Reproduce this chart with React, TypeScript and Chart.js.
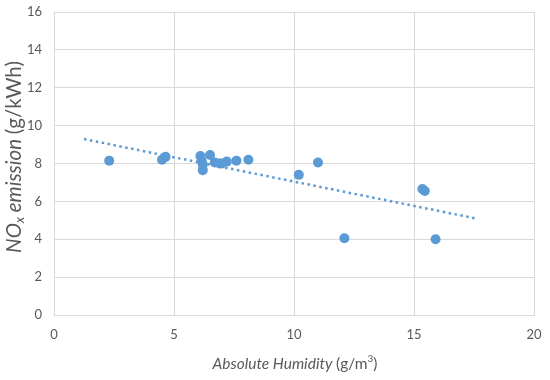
import React, { useEffect, useRef } from "react";
import { Chart, registerables } from "chart.js";

Chart.register(...registerables);

const humidity = [2.3, 4.5, 4.65, 6.1, 6.15, 6.2, 6.2, 6.5, 6.7, 6.9, 7.0, 7.2, 7.6, 8.1, 10.2, 11.0, 12.1, 15.35, 15.45, 15.9];
const noxEmission = [8.15, 8.2, 8.35, 8.4, 8.15, 7.95, 7.65, 8.45, 8.05, 8.0, 8.0, 8.1, 8.15, 8.2, 7.4, 8.05, 4.05, 6.65, 6.55, 4.0];
const trendX = [1.25, 17.65];
const trendY = [9.29, 5.08];
const xTicks = [0, 5, 10, 15, 20];
const yTicks = [0, 2, 4, 6, 8, 10, 12, 14, 16];

const FONT = "Lato, 'Open Sans', sans-serif";
const TEXT = "#595959";
const GRID = "#d9d9d9";
const BLUE = "#5b9bd5";

type Seg = { t: string; italic?: boolean; sub?: boolean; sup?: boolean };

function drawSegs(ctx: CanvasRenderingContext2D, segs: Seg[], base: number, target: number) {
  const fontFor = (s: Seg, size: number) =>
    `${s.italic ? "italic " : ""}${s.sub || s.sup ? Math.round(size * 0.65) : size}px ${FONT}`;
  const measure = (size: number) => {
    let total = 0;
    for (const s of segs) {
      ctx.font = fontFor(s, size);
      total += ctx.measureText(s.t).width;
    }
    return total;
  };
  const size = Math.round(base * (target / measure(base)) * 2) / 2;
  const total = measure(size);
  let x = -total / 2;
  ctx.textBaseline = "middle";
  ctx.textAlign = "left";
  for (const s of segs) {
    ctx.font = fontFor(s, size);
    const dy = s.sub ? size * 0.3 : s.sup ? -size * 0.35 : 0;
    ctx.fillText(s.t, x, dy);
    x += ctx.measureText(s.t).width;
  }
}

const titlePlugin = {
  id: "mixedTitles",
  afterDraw(chart: any) {
    const ctx = chart.ctx as CanvasRenderingContext2D;
    ctx.save();
    ctx.fillStyle = TEXT;
    ctx.translate(295, 364);
    drawSegs(
      ctx,
      [{ t: "Absolute Humidity ", italic: true }, { t: "(g/m" }, { t: "3", sup: true }, { t: ")" }],
      15,
      166
    );
    ctx.restore();
    ctx.save();
    ctx.fillStyle = TEXT;
    ctx.translate(14, 157);
    ctx.rotate(-Math.PI / 2);
    drawSegs(
      ctx,
      [{ t: "NO", italic: true }, { t: "x", italic: true, sub: true }, { t: " emission ", italic: true }, { t: "(g/kWh)" }],
      15,
      193
    );
    ctx.restore();
  },
};

export default function App() {
  const ref = useRef<HTMLCanvasElement>(null);
  useEffect(() => {
    if (!ref.current) return;
    const chart = new Chart(ref.current, {
      type: "scatter",
      data: {
        datasets: [
          {
            label: "Trend",
            data: trendX.map((x, i) => ({ x, y: trendY[i] })),
            showLine: true,
            borderColor: BLUE,
            borderWidth: 2.5,
            borderDash: [2.5, 3.5],
            pointRadius: 0,
            fill: false,
          },
          {
            label: "NOx",
            data: humidity.map((x, i) => ({ x, y: noxEmission[i] })),
            backgroundColor: BLUE,
            borderColor: BLUE,
            pointRadius: 5,
            borderWidth: 0,
          },
        ],
      },
      options: {
        animation: false,
        responsive: false,
        maintainAspectRatio: false,
        layout: { padding: { left: 0, right: 16, top: 12, bottom: 0 } },
        plugins: { legend: { display: false }, tooltip: { enabled: false } },
        scales: {
          x: {
            type: "linear",
            min: 0,
            max: 20,
            afterBuildTicks: (s: any) => {
              s.ticks = xTicks.map((v) => ({ value: v }));
            },
            afterFit: (s: any) => {
              s.height = 65;
              s.paddingLeft = 0;
              s.paddingRight = 0;
            },
            ticks: { color: TEXT, font: { family: FONT, size: 13 }, padding: 12 },
            grid: { color: GRID, drawTicks: false, lineWidth: 1 },
            border: { display: true, color: GRID },
          },
          y: {
            type: "linear",
            min: 0,
            max: 16,
            afterBuildTicks: (s: any) => {
              s.ticks = yTicks.map((v) => ({ value: v }));
            },
            afterFit: (s: any) => {
              s.width = 54;
              s.paddingTop = 0;
              s.paddingBottom = 0;
            },
            ticks: { color: TEXT, font: { family: FONT, size: 13 }, padding: 12 },
            grid: { color: GRID, drawTicks: false, lineWidth: 1 },
            border: { display: true, color: GRID },
          },
        },
      },
      plugins: [titlePlugin],
    });
    return () => chart.destroy();
  }, []);
  return (
    <div style={{ position: "fixed", left: 0, top: 0, width: 550, height: 380, background: "#fff" }}>
      <canvas ref={ref} width={550} height={380} style={{ width: 550, height: 380 }} />
    </div>
  );
}
